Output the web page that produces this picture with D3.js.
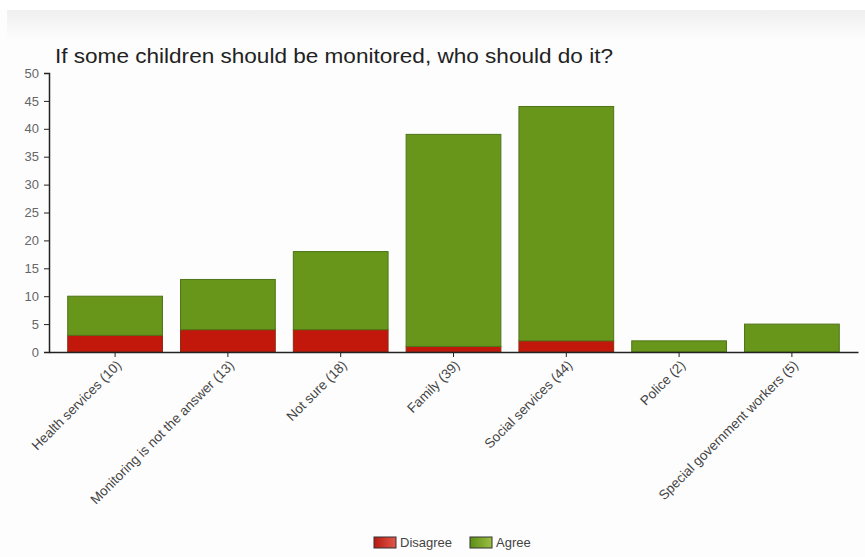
<!DOCTYPE html>
<html><head><meta charset="utf-8">
<script src="https://cdn.jsdelivr.net/npm/d3@7"></script>
<style>body{margin:0;background:#fff;}svg{display:block;font-family:"Liberation Sans",Arial,sans-serif;}</style>
</head><body>
<svg id="c" width="865" height="557"></svg>
<script>
const categories = ["Health services (10)","Monitoring is not the answer (13)","Not sure (18)","Family (39)","Social services (44)","Police (2)","Special government workers (5)"];
const disagree = [3,4,4,1,2,0,0];
const agree = [7,9,14,38,42,2,5];
const seriesNames = ["Disagree","Agree"];
const yTicks = [0,5,10,15,20,25,30,35,40,45,50];
const title = "If some children should be monitored, who should do it?";

const svg = d3.select("#c");
const defs = svg.append("defs");
const bg = defs.append("linearGradient").attr("id","bg").attr("x1",0).attr("x2",0).attr("y1",0).attr("y2",1);
bg.append("stop").attr("offset","0").attr("stop-color","#efefef");
bg.append("stop").attr("offset","1").attr("stop-color","#fdfdfd");
svg.append("rect").attr("x",0).attr("y",0).attr("width",865).attr("height",557).attr("fill","#fdfdfd");
svg.append("rect").attr("x",0).attr("y",0).attr("width",865).attr("height",10).attr("fill","#ffffff");
svg.append("rect").attr("x",7).attr("y",10).attr("width",858).attr("height",30).attr("fill","url(#bg)");

const x = d3.scaleBand().domain(categories).range([49,858]).paddingInner(0.16).paddingOuter(0.166);
const y = d3.scaleLinear().domain([0,50]).range([352,73]);

const data = categories.map((c,i)=>({cat:c, d:disagree[i], a:agree[i]}));
const stack = d3.stack().keys(["d","a"])(data);
const fills = ["#c2180b","#67961a"];
const strokes = ["#8e2a12","#4f7418"];

stack.forEach((layer,k)=>{
  svg.append("g").selectAll("rect").data(layer.filter(s=>s[1]-s[0]>0)).join("rect")
    .attr("x",s=>x(s.data.cat)).attr("width",x.bandwidth())
    .attr("y",s=>y(s[1])).attr("height",s=>y(s[0])-y(s[1]))
    .attr("fill",fills[k]).attr("stroke",strokes[k]).attr("stroke-width",1);
});

// y axis
const ya = svg.append("g").attr("transform","translate(49,0)")
  .call(d3.axisLeft(y).tickValues(yTicks).tickSize(5).tickPadding(5));
ya.selectAll("text").attr("font-size",13).attr("fill","#666").attr("font-family","Liberation Sans, Arial, sans-serif");
ya.select(".domain").attr("stroke","#222").attr("stroke-width",1.5);
ya.selectAll(".tick line").attr("stroke","#222");

// x axis
const xa = svg.append("g").attr("transform","translate(0,352)")
  .call(d3.axisBottom(x).tickSize(5).tickSizeOuter(0));
xa.select(".domain").attr("stroke","#222").attr("stroke-width",1.5);
xa.selectAll(".tick line").attr("stroke","#222");
xa.selectAll("text").attr("font-size",13.5).attr("fill","#444")
  .attr("font-family","Liberation Sans, Arial, sans-serif")
  .attr("text-anchor","end").attr("dy",null).attr("y",0)
  .attr("transform","translate(7,14) rotate(-45)");

// title
svg.append("text").attr("x",55).attr("y",63).attr("font-size",20).attr("fill","#222")
  .attr("textLength",558).attr("lengthAdjust","spacingAndGlyphs").text(title);

// legend
const lg = defs.append("linearGradient").attr("id","lgr").attr("x1",0).attr("x2",1);
lg.append("stop").attr("offset","0").attr("stop-color","#b81a10");
lg.append("stop").attr("offset","1").attr("stop-color","#e0584a");
const lg2 = defs.append("linearGradient").attr("id","lgg").attr("x1",0).attr("x2",1);
lg2.append("stop").attr("offset","0").attr("stop-color","#5c8e16");
lg2.append("stop").attr("offset","1").attr("stop-color","#9cc040");
const legX = [374,470];
const legFill = ["url(#lgr)","url(#lgg)"];
seriesNames.forEach((n,i)=>{
  svg.append("rect").attr("x",legX[i]).attr("y",537).attr("width",22).attr("height",11)
    .attr("fill",legFill[i]).attr("stroke","#333").attr("stroke-width",1);
  svg.append("text").attr("x",legX[i]+26).attr("y",547).attr("font-size",13).attr("fill","#444").text(n);
});
</script>
</body></html>
